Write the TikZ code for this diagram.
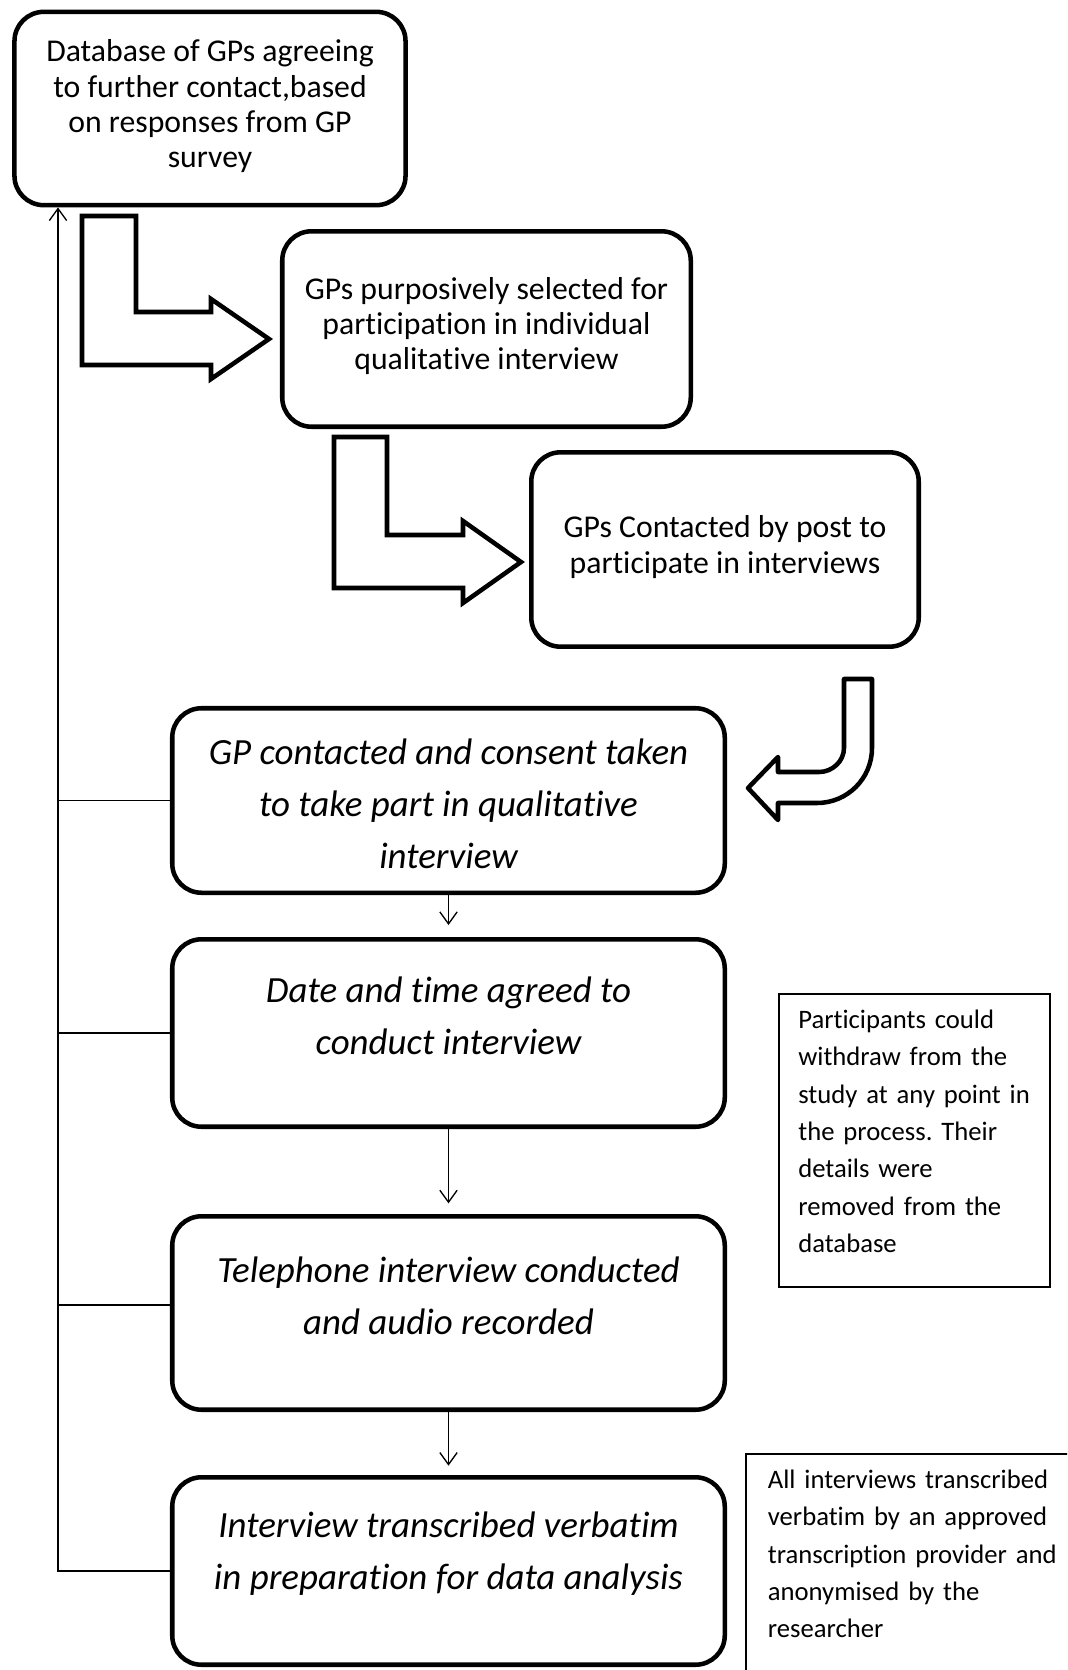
\documentclass[tikz,border=0pt]{standalone}
\usepackage{fontspec}
\setmainfont{Carlito}[RawFeature={-liga;-clig;-dlig;-calt}]
\frenchspacing
\usetikzlibrary{arrows.meta}
\begin{document}
\begin{tikzpicture}[x=0.75pt, y=-0.75pt,
  stepbox/.style={draw, line width=3.4pt, rounded corners=22pt, inner sep=0pt},
  steptext/.style={align=center, inner sep=0pt, font=\fontsize{23.8}{26.5}\selectfont},
  italtext/.style={align=center, inner sep=0pt, font=\fontsize{27.7}{39}\selectfont\itshape},
  notebox/.style={draw, line width=1.3pt, anchor=north west, align=left,
    inner ysep=11pt, text height=15pt, font=\fontsize{20}{28}\selectfont},
  link/.style={line width=1pt, -{Straight Barb[length=9pt,width=13pt]}},
  railline/.style={line width=0.9pt},
  bigarrow/.style={draw, line width=3.4pt, miter limit=10},
  bentarrow/.style={draw, line width=3.4pt, line join=round}
]
\clip (0,0) rectangle (1067,1670);

% main process boxes
\node[stepbox, minimum width=293.3pt, minimum height=145pt] (b1) at (210,108.5) {};
\node[stepbox, minimum width=306.4pt, minimum height=146.6pt] (b2) at (486.5,329) {};
\node[stepbox, minimum width=290.6pt, minimum height=145.8pt] (b3) at (725,549.5) {};
\node[stepbox, minimum width=414.4pt, minimum height=138.4pt] (b4) at (448.5,800.5) {};
\node[stepbox, minimum width=414.4pt, minimum height=140.6pt] (b5) at (448.5,1033) {};
\node[stepbox, minimum width=414.4pt, minimum height=145.1pt] (b6) at (448.5,1313) {};
\node[stepbox, minimum width=414.4pt, minimum height=140.6pt] (b7) at (448.5,1571) {};

% box texts
\node[steptext] (t1) at (210,106.5) {Database of GPs agreeing\\to further contact,based\\on responses from GP\\survey};
\node[steptext] (t2) at (486.5,326) {GPs purposively selected for\\participation in individual\\qualitative interview};
\node[steptext] (t3) at (725,547) {GPs Contacted by post to\\participate in interviews};
\node[italtext] (t4) at (448.5,804) {GP contacted and consent taken\\to take part in qualitative\\interview};
\node[italtext] (t5) at (448.5,1016) {Date and time agreed to\\conduct interview};
\node[italtext] (t6) at (448.5,1296) {Telephone interview conducted\\and audio recorded};
\node[italtext] (t7) at (448.5,1554) {Interview transcribed verbatim\\in preparation for data analysis};

% block arrows between the upper boxes
\path[bigarrow] (82,216) -- (136,216) -- (136,312) -- (211,312) -- (211,299)
  -- (269,339) -- (211,379) -- (211,365) -- (82,365) -- cycle;
\path[bigarrow] (334,437) -- (387,437) -- (387,535) -- (463,535) -- (463,521)
  -- (521,562) -- (463,603) -- (463,588) -- (334,588) -- cycle;
\path[bentarrow] (844,679) -- (872,679) -- (872,748)
  .. controls (872,778.4) and (847.4,803) .. (817,803) -- (778,803) -- (778,820)
  -- (748,788) -- (778,757) -- (778,772) -- (819,772)
  .. controls (832.3,772) and (844,761.3) .. (844,748) -- cycle;

% downward links
\draw[link, shorten >=9pt] (b4.south) -- (b5.north);
\draw[link, shorten >=8pt] (b5.south) -- (b6.north);
\draw[link, shorten >=7pt] (b6.south) -- (b7.north);

% return rail back to the database
\coordinate (rx) at (58,0);
\draw[link] (b7.west) -- (b7.west -| rx) -- (rx |- b1.south);
\draw[railline] (b4.west) -- (b4.west -| rx);
\draw[railline] (b5.west) -- (b5.west -| rx);
\draw[railline] ([yshift=6pt]b6.west) -- ([yshift=6pt]b6.west -| rx);

% side notes
\node[notebox, text width=174pt, inner xsep=14.6pt, text depth=183pt] (n1) at (778,993)
  {Participants could\\withdraw from the\\study at any point in\\the process. Their\\details were\\removed from the\\database};
\node[notebox, text width=225pt, inner xsep=16.5pt, text depth=200pt] (n2) at (745,1453)
  {All interviews transcribed\\verbatim by an approved\\transcription provider and\\anonymised by the\\researcher};
\end{tikzpicture}
\end{document}
